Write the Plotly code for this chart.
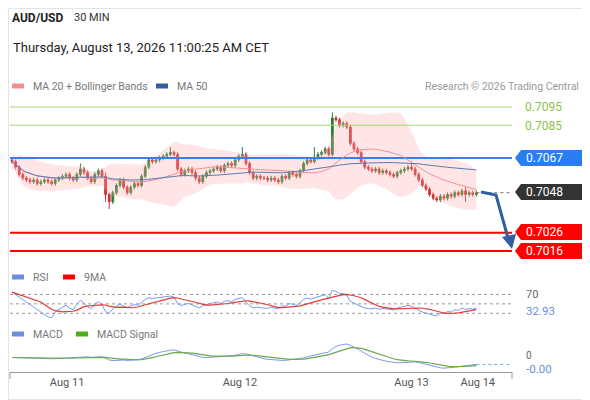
import plotly.graph_objects as go
import pandas as pd
import numpy as np

closes = [0.7065, 0.7062, 0.7058, 0.7056,
          0.7055, 0.7054, 0.7055, 0.7053, 0.7054, 0.7055,
          0.7054, 0.7053, 0.7055, 0.7056,
          0.7057, 0.7058, 0.7056, 0.7055, 0.7058,
          0.7061, 0.7059, 0.7056, 0.7054,
          0.7058, 0.7060, 0.7057,
          0.7047, 0.7043, 0.7048, 0.7052,
          0.7055, 0.7051, 0.7048,
          0.7051, 0.7053, 0.7052,
          0.7057, 0.7062, 0.7066, 0.7065,
          0.7066, 0.7067, 0.7068, 0.7069,
          0.7070, 0.7069, 0.7061,
          0.7058, 0.7060, 0.7061, 0.7059,
          0.7056, 0.7054, 0.7057,
          0.7059, 0.7060, 0.7061, 0.7062, 0.7060,
          0.7063, 0.7064, 0.7063, 0.7066, 0.7068,
          0.7069, 0.7064,
          0.7059, 0.7056, 0.7057, 0.7056,
          0.7056, 0.7055, 0.7056, 0.7055, 0.7054,
          0.7057, 0.7056, 0.7059, 0.7058, 0.7057,
          0.7060, 0.7064, 0.7066, 0.7065,
          0.7067, 0.7069, 0.7070,
          0.7072, 0.7069,
          0.7089,
          0.7088, 0.7085, 0.7086,
          0.7084, 0.7075, 0.7072,
          0.7070, 0.7065, 0.7062,
          0.7061, 0.7060, 0.7061, 0.7059, 0.7060, 0.7059,
          0.7058, 0.7057, 0.7059, 0.7060, 0.7061, 0.7062,
          0.7061, 0.7058, 0.7055, 0.7052,
          0.7050, 0.7047, 0.7045, 0.7044,
          0.7046, 0.7045, 0.7047, 0.7046, 0.7048, 0.7047,
          0.7049, 0.7047, 0.7048, 0.7047, 0.7048]
first_open = 0.7066
big_wicks = {19: (0.0003, 0.0001), 26: (0.0002, 0.0004), 27: (0.0001, 0.0004),
             44: (0.0003, 0.0001), 64: (0.0004, 0.0001), 89: (0.0003, 0.0001),
             84: (0.0006, 0.0001), 126: (0.0002, 0.0004), 111: (0.0003, 0.0001)}
default_wick = 0.00012
rsi_start = 75

tick_pos = [15.3, 63.3, 111.0, 129.4]
tick_txt = ["Aug 11", "Aug 12", "Aug 13", "Aug 14"]

levels_green = [0.7095, 0.7085]
level_blue = 0.7067
level_last = 0.7048
levels_red = [0.7026, 0.7016]
rsi_last_label = "32.93"
macd_last_label = "-0.00"

n = len(closes)
idx = list(range(n))
opens = [first_open] + closes[:-1]
highs, lows = [], []
for i in idx:
    u, l = big_wicks.get(i, (default_wick, default_wick))
    highs.append(max(opens[i], closes[i]) + u)
    lows.append(min(opens[i], closes[i]) - l)

s = pd.Series(closes)
ma20 = s.rolling(20, min_periods=1).mean()
sd20 = s.rolling(20, min_periods=2).std().bfill()
ma50 = s.rolling(50, min_periods=1).mean()
bb_up = ma20 + 2 * sd20
bb_lo = ma20 - 2 * sd20
d = s.diff().fillna(0)
g = d.clip(lower=0).ewm(alpha=1/14).mean()
ls = (-d.clip(upper=0)).ewm(alpha=1/14).mean()
rsi = 100 - 100 / (1 + g / ls.replace(0, np.nan))
rsi.iloc[:10] = np.nan
rsi.iloc[0] = rsi_start
rsi = rsi.interpolate()
rsi_ma = rsi.rolling(9, min_periods=1).mean()
macd = s.ewm(span=12).mean() - s.ewm(span=26).mean()
sig = macd.ewm(span=9).mean()

OFF = 8
W, H = 590 - OFF, 400 - OFF
px = lambda x: (x - OFF) / W
py = lambda y: 1 - (y - OFF) / H
X0, X1 = -0.56, 138.9
XD = [px(10), px(512)]

fig = go.Figure()
fig.add_trace(go.Scatter(x=idx, y=bb_up, mode="lines", line=dict(width=0), hoverinfo="skip"))
fig.add_trace(go.Scatter(x=idx, y=bb_lo, mode="lines", line=dict(width=0), fill="tonexty",
                         fillcolor="rgba(255,170,170,0.3)", hoverinfo="skip"))
for lv in levels_green:
    fig.add_trace(go.Scatter(x=[X0, X1], y=[lv, lv], mode="lines", line=dict(color="#a5d57a", width=1)))
fig.add_trace(go.Scatter(x=[X0, X1], y=[level_blue] * 2, mode="lines", line=dict(color="#3d7cf0", width=2)))
for lv in levels_red:
    fig.add_trace(go.Scatter(x=[X0, X1], y=[lv, lv], mode="lines", line=dict(color="#ff0000", width=2)))
fig.add_trace(go.Scatter(x=[n - 1, X1], y=[level_last] * 2, mode="lines",
                         line=dict(color="#777", width=1, dash="dot")))
fig.add_trace(go.Scatter(x=idx, y=ma20, mode="lines", line=dict(color="#f59090", width=1)))
fig.add_trace(go.Scatter(x=idx, y=ma50, mode="lines", line=dict(color="#5a7ab8", width=1)))
fig.add_trace(go.Candlestick(x=idx, open=opens, high=highs, low=lows, close=closes,
                             increasing=dict(line=dict(color="#2e7d32", width=1), fillcolor="#2e7d32"),
                             decreasing=dict(line=dict(color="#d32f2f", width=1), fillcolor="#d32f2f"),
                             whiskerwidth=0))
for lv in [70, 50, 30]:
    fig.add_trace(go.Scatter(x=[X0, X1], y=[lv, lv], mode="lines", xaxis="x2", yaxis="y2",
                             line=dict(color="#999", width=1, dash="dot")))
fig.add_trace(go.Scatter(x=idx, y=rsi, mode="lines", xaxis="x2", yaxis="y2", line=dict(color="#7a9ae8", width=1)))
fig.add_trace(go.Scatter(x=idx, y=rsi_ma, mode="lines", xaxis="x2", yaxis="y2", line=dict(color="#e53935", width=1.2)))
fig.add_trace(go.Scatter(x=[n - 1, X1], y=[macd.iloc[-1]] * 2, mode="lines", xaxis="x3", yaxis="y3",
                         line=dict(color="#7a9ae8", width=1, dash="dot")))
fig.add_trace(go.Scatter(x=idx, y=macd, mode="lines", xaxis="x3", yaxis="y3", line=dict(color="#7a9ae8", width=1)))
fig.add_trace(go.Scatter(x=idx, y=sig, mode="lines", xaxis="x3", yaxis="y3", line=dict(color="#6aa84f", width=1.2)))

mlo, mhi = float(min(macd.min(), sig.min())), float(max(macd.max(), sig.max()))
pad = (mhi - mlo) * 0.08

ax = dict(range=[X0, X1], domain=XD, showgrid=False, zeroline=False, showticklabels=False, fixedrange=True)
fig.update_layout(
    width=W, height=H, margin=dict(l=0, r=0, t=0, b=0), showlegend=False,
    paper_bgcolor="white", plot_bgcolor="white",
    font=dict(family="Roboto, Arial", size=11, color="#555"),
    xaxis=dict(ax, rangeslider=dict(visible=False)),
    yaxis=dict(domain=[py(262), py(95)], range=[0.7095 - 155 / 18228, 0.7095 + 12 / 18228],
               showgrid=False, zeroline=False, showticklabels=False),
    xaxis2=dict(ax, anchor="y2"),
    yaxis2=dict(domain=[py(318), py(285)], range=[20, 90], showgrid=False, zeroline=False, showticklabels=False),
    xaxis3=dict(ax, anchor="y3", showticklabels=True, tickvals=tick_pos, ticktext=tick_txt,
                tickfont=dict(size=11, color="#555"), showline=True, linecolor="#999", linewidth=1, ticks=""),
    yaxis3=dict(domain=[py(372), py(342)], range=[mlo - pad * 2, mhi + pad],
                showgrid=False, zeroline=False, showticklabels=False),
)

shapes = [dict(type="rect", xref="paper", yref="paper", x0=px(OFF), x1=px(590), y0=py(400), y1=py(OFF),
               line=dict(color="#dfe6ea", width=2)),
          dict(type="line", xref="paper", yref="paper", x0=px(10), x1=px(10), y0=py(372), y1=py(379),
               line=dict(color="#999", width=1)),
          dict(type="line", xref="paper", yref="paper", x0=px(512), x1=px(512), y0=py(372), y1=py(379),
               line=dict(color="#999", width=1))]
ann = []

def txt(x, y, text, size=11, color="#666", anchor="left"):
    ann.append(dict(xref="paper", yref="paper", x=px(x), y=py(y), text=text, showarrow=False,
                    xanchor=anchor, yanchor="middle", font=dict(size=size, color=color)))

def tag(y, text, bg, fg):
    x0, x1 = 515, 585
    path = f"M {px(x0)},{py(y)} L {px(x0+6)},{py(y-8)} L {px(x1)},{py(y-8)} L {px(x1)},{py(y+8)} L {px(x0+6)},{py(y+8)} Z"
    shapes.append(dict(type="path", xref="paper", yref="paper", path=path, fillcolor=bg, line=dict(width=0)))
    txt(524, y, text, 12, fg)

txt(523, 107, "0.7095", 12, "#8bc34a")
txt(523, 126, "0.7085", 12, "#8bc34a")
tag(158, "0.7067", "#2a7ef0", "white")
tag(192, "0.7048", "#333333", "white")
tag(232, "0.7026", "#ff0000", "white")
tag(251, "0.7016", "#ff0000", "white")

shapes.append(dict(type="path", xref="paper", yref="paper",
                   path=f"M {px(481)},{py(192)} L {px(496)},{py(195)} L {px(508)},{py(238)}",
                   line=dict(color="#2e5fa0", width=3)))
shapes.append(dict(type="path", xref="paper", yref="paper",
                   path=f"M {px(502)},{py(237)} L {px(516)},{py(234)} L {px(512)},{py(249)} Z",
                   fillcolor="#2e5fa0", line=dict(width=0)))

def legend_box(x, y, color):
    shapes.append(dict(type="rect", xref="paper", yref="paper", x0=px(x), x1=px(x+12), y0=py(y+2.5), y1=py(y-2.5),
                       fillcolor=color, line=dict(width=0)))

txt(10, 18, "<b>AUD/USD</b>", 12, "#222")
txt(72, 18, "30 MIN", 11, "#333")
txt(11, 47, "Thursday, August 13, 2026 11:00:25 AM CET", 13, "#222")
legend_box(12, 86, "#f59090"); txt(31, 86, "MA 20 + Bollinger Bands", 10.5, "#777")
legend_box(156, 86, "#2e5fa0"); txt(175, 86, "MA 50", 10.5, "#777")
txt(581, 86, "Research © 2026 Trading Central", 10.5, "#999", "right")
legend_box(12, 277, "#6a8ee0"); txt(31, 277, "RSI", 10.5, "#777")
legend_box(63, 277, "#ff0000"); txt(82, 277, "9MA", 10.5, "#777")
legend_box(12, 334, "#6a8ee0"); txt(31, 334, "MACD", 10.5, "#777")
legend_box(76, 334, "#4caf1a"); txt(95, 334, "MACD Signal", 10.5, "#777")
txt(524, 294, "70", 11, "#666")
txt(524, 311, rsi_last_label, 11.5, "#6a8ee0")
txt(524, 355, "0", 10, "#666")
txt(524, 369, macd_last_label, 11.5, "#6a8ee0")

fig.update_layout(shapes=shapes, annotations=ann)
fig.write_html("out.html")
